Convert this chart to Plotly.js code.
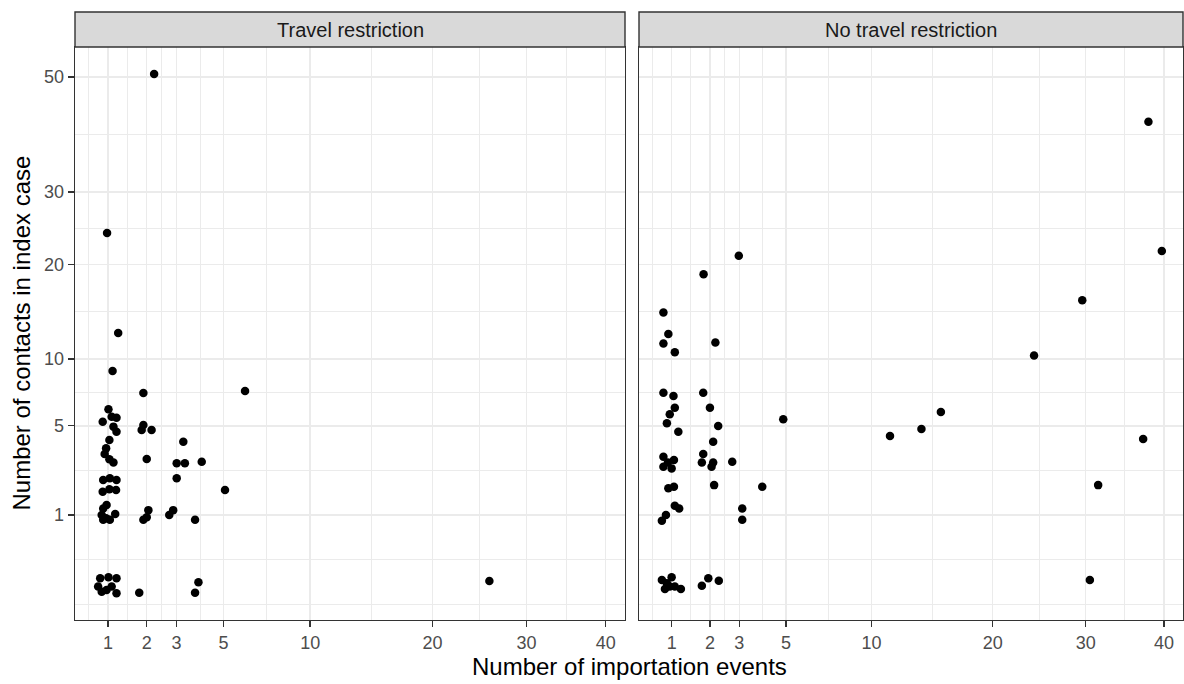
<!DOCTYPE html>
<html><head><meta charset="utf-8">
<script src="https://cdn.plot.ly/plotly-3.0.1.min.js"></script>
<style>html,body{margin:0;padding:0;background:#fff}#chart{width:1184px;height:684px}</style>
</head><body><div id="chart"></div>
<script>
// ---- data (sqrt-scaled axes, jittered points) ----
const panelTitles = ["Travel restriction", "No travel restriction"];
const xTickValues = [1, 2, 3, 5, 10, 20, 30, 40];
const yTickValues = [1, 5, 10, 20, 30, 50];

const travelImports = [2.23, 0.98, 1.23, 1.10, 1.90, 6.08, 1.01, 0.89, 1.08, 1.19, 1.12, 1.19, 1.03, 1.90, 1.85, 2.15, 3.26, 0.96, 0.93, 1.03, 1.12, 2.00, 3.01, 3.32, 4.01, 0.90, 1.04, 1.19, 0.89, 1.03, 1.18, 3.01, 5.07, 0.90, 0.97, 1.16, 0.90, 0.96, 1.04, 0.87, 2.05, 1.90, 2.00, 2.88, 2.74, 3.73, 0.84, 1.01, 1.19, 0.80, 0.87, 1.08, 1.19, 0.97, 1.78, 3.87, 3.73, 25.8];
const travelContacts = [50.6, 24.1, 12.4, 8.98, 7.24, 7.39, 6.08, 5.26, 5.58, 5.52, 4.95, 4.64, 4.16, 5.05, 4.74, 4.74, 4.06, 3.70, 3.41, 3.14, 2.99, 3.15, 2.95, 2.95, 3.02, 2.21, 2.28, 2.21, 1.75, 1.84, 1.81, 2.28, 1.81, 1.19, 1.30, 1.03, 0.87, 0.91, 0.87, 1.00, 1.14, 0.87, 0.94, 1.14, 1.00, 0.87, 0.015, 0.019, 0.015, 0.0001, -0.004, 0.0001, -0.0073, -0.0016, -0.0059, 0.0045, -0.0059, 0.0073];

const noTravelImports = [37.9, 39.7, 2.98, 1.81, 29.6, 24.2, 15.3, 13.7, 11.3, 37.2, 31.5, 30.5, 4.87, 3.92, 0.83, 0.93, 0.83, 1.07, 2.17, 0.83, 1.04, 1.80, 1.07, 0.96, 0.90, 2.00, 2.26, 1.15, 2.10, 0.83, 1.05, 0.83, 1.00, 0.92, 1.80, 1.76, 2.10, 2.05, 2.74, 0.93, 1.05, 2.13, 1.07, 1.17, 0.80, 0.88, 3.11, 3.11, 0.80, 1.00, 0.90, 1.07, 0.86, 1.21, 0.96, 1.95, 1.76, 2.28];
const noTravelContacts = [41.6, 21.7, 21.1, 18.8, 15.8, 10.3, 5.89, 4.80, 4.39, 4.22, 2.00, 0.0098, 5.41, 1.94, 14.5, 12.3, 11.4, 10.6, 11.5, 7.26, 7.02, 7.26, 6.19, 5.74, 5.16, 6.19, 4.99, 4.64, 4.06, 3.27, 3.11, 2.79, 2.71, 2.98, 3.41, 2.98, 2.98, 2.79, 3.02, 1.88, 1.94, 2.00, 1.27, 1.19, 0.85, 1.00, 1.19, 0.87, 0.0098, 0.0186, 0.0028, 0.0001, -0.0007, -0.0007, 0.0001, 0.015, 0.0004, 0.008];

// ---- sqrt scale helpers ----
const ssqrt = v => Math.sign(v) * Math.sqrt(Math.abs(v));
function minorBreaks(major, lo, hi) {
  const d = major[1] - major[0];
  const b = [major[0] - d, ...major, major[major.length - 1] + d];
  const out = [];
  for (let i = 0; i < b.length - 1; i++) { out.push(b[i]); out.push((b[i] + b[i + 1]) / 2); }
  out.push(b[b.length - 1]);
  return out.filter(v => v >= lo && v <= hi && !major.some(m => Math.abs(m - v) < 1e-9));
}

const W = 1184, H = 684;
const FONT = '"Liberation Sans", Arial, sans-serif';
const xRange = [0.647, 6.530];
const yRange = [-0.455, 7.486];
const xMajor = xTickValues.map(ssqrt);
const yMajor = yTickValues.map(ssqrt);
const xMinor = minorBreaks(xMajor, xRange[0], xRange[1]);
const yMinor = minorBreaks(yMajor, yRange[0], yRange[1]);

const px = [[75, 625], [639, 1183]];
const pyTop = 47, pyBot = 620;
const yDom = [(H - pyBot) / H, (H - pyTop) / H];

function xAxis(i) {
  return {
    domain: [px[i][0] / W, px[i][1] / W], range: xRange, anchor: i ? 'y2' : 'y',
    tickmode: 'array', tickvals: xMajor, ticktext: xTickValues.map(String),
    ticks: 'outside', ticklen: 6, tickwidth: 1.3, tickcolor: '#333333',
    tickfont: {family: FONT, size: 18, color: '#4D4D4D'},
    showgrid: true, gridcolor: '#EBEBEB', gridwidth: 1.4,
    minor: {tickmode: 'array', tickvals: xMinor, showgrid: true, gridcolor: '#EBEBEB', gridwidth: 1, ticks: ''},
    zeroline: false, showline: true, mirror: true, linecolor: '#333333', linewidth: 1.4,
    fixedrange: true
  };
}
function yAxis(i) {
  return {
    domain: yDom, range: yRange, anchor: i ? 'x2' : 'x',
    tickmode: 'array', tickvals: yMajor, ticktext: yTickValues.map(String),
    ticks: i ? '' : 'outside', ticklen: 6, tickwidth: 1.3, tickcolor: '#333333',
    showticklabels: !i,
    tickfont: {family: FONT, size: 18, color: '#4D4D4D'},
    showgrid: true, gridcolor: '#EBEBEB', gridwidth: 1.4,
    minor: {tickmode: 'array', tickvals: yMinor, showgrid: true, gridcolor: '#EBEBEB', gridwidth: 1, ticks: ''},
    zeroline: false, showline: true, mirror: true, linecolor: '#333333', linewidth: 1.4,
    fixedrange: true
  };
}

const marker = {color: '#000000', size: 8.5, line: {width: 0}};
const traces = [
  {x: travelImports.map(ssqrt), y: travelContacts.map(ssqrt), xaxis: 'x', yaxis: 'y',
   type: 'scatter', mode: 'markers', marker: marker, hoverinfo: 'skip'},
  {x: noTravelImports.map(ssqrt), y: noTravelContacts.map(ssqrt), xaxis: 'x2', yaxis: 'y2',
   type: 'scatter', mode: 'markers', marker: marker, hoverinfo: 'skip'}
];

const stripTop = 12;
const shapes = px.map(p => ({
  type: 'rect', xref: 'paper', yref: 'paper',
  x0: p[0] / W, x1: p[1] / W, y0: (H - pyTop) / H, y1: (H - stripTop) / H,
  fillcolor: '#D9D9D9', line: {color: '#333333', width: 1.4}, layer: 'above'
}));
const annotations = px.map((p, i) => ({
  text: panelTitles[i], xref: 'paper', yref: 'paper', showarrow: false,
  x: (p[0] + p[1]) / 2 / W, y: (H - (pyTop + stripTop) / 2) / H,
  xanchor: 'center', yanchor: 'middle',
  font: {family: FONT, size: 20, color: '#1A1A1A'}
}));
annotations.push({
  text: 'Number of importation events', xref: 'paper', yref: 'paper', showarrow: false,
  x: (px[0][0] + px[1][1]) / 2 / W, y: (H - 666) / H, xanchor: 'center', yanchor: 'middle',
  font: {family: FONT, size: 24, color: '#000000'}
});
annotations.push({
  text: 'Number of contacts in index case', xref: 'paper', yref: 'paper', showarrow: false,
  x: 21 / W, y: (yDom[0] + yDom[1]) / 2, xanchor: 'center', yanchor: 'middle', textangle: -90,
  font: {family: FONT, size: 24, color: '#000000'}
});

const layout = {
  width: W, height: H, margin: {l: 0, r: 0, t: 0, b: 0},
  paper_bgcolor: '#FFFFFF', plot_bgcolor: '#FFFFFF', showlegend: false,
  xaxis: xAxis(0), yaxis: yAxis(0), xaxis2: xAxis(1), yaxis2: yAxis(1),
  shapes: shapes, annotations: annotations
};
Plotly.newPlot('chart', traces, layout, {staticPlot: true, displayModeBar: false});
</script>
</body></html>
